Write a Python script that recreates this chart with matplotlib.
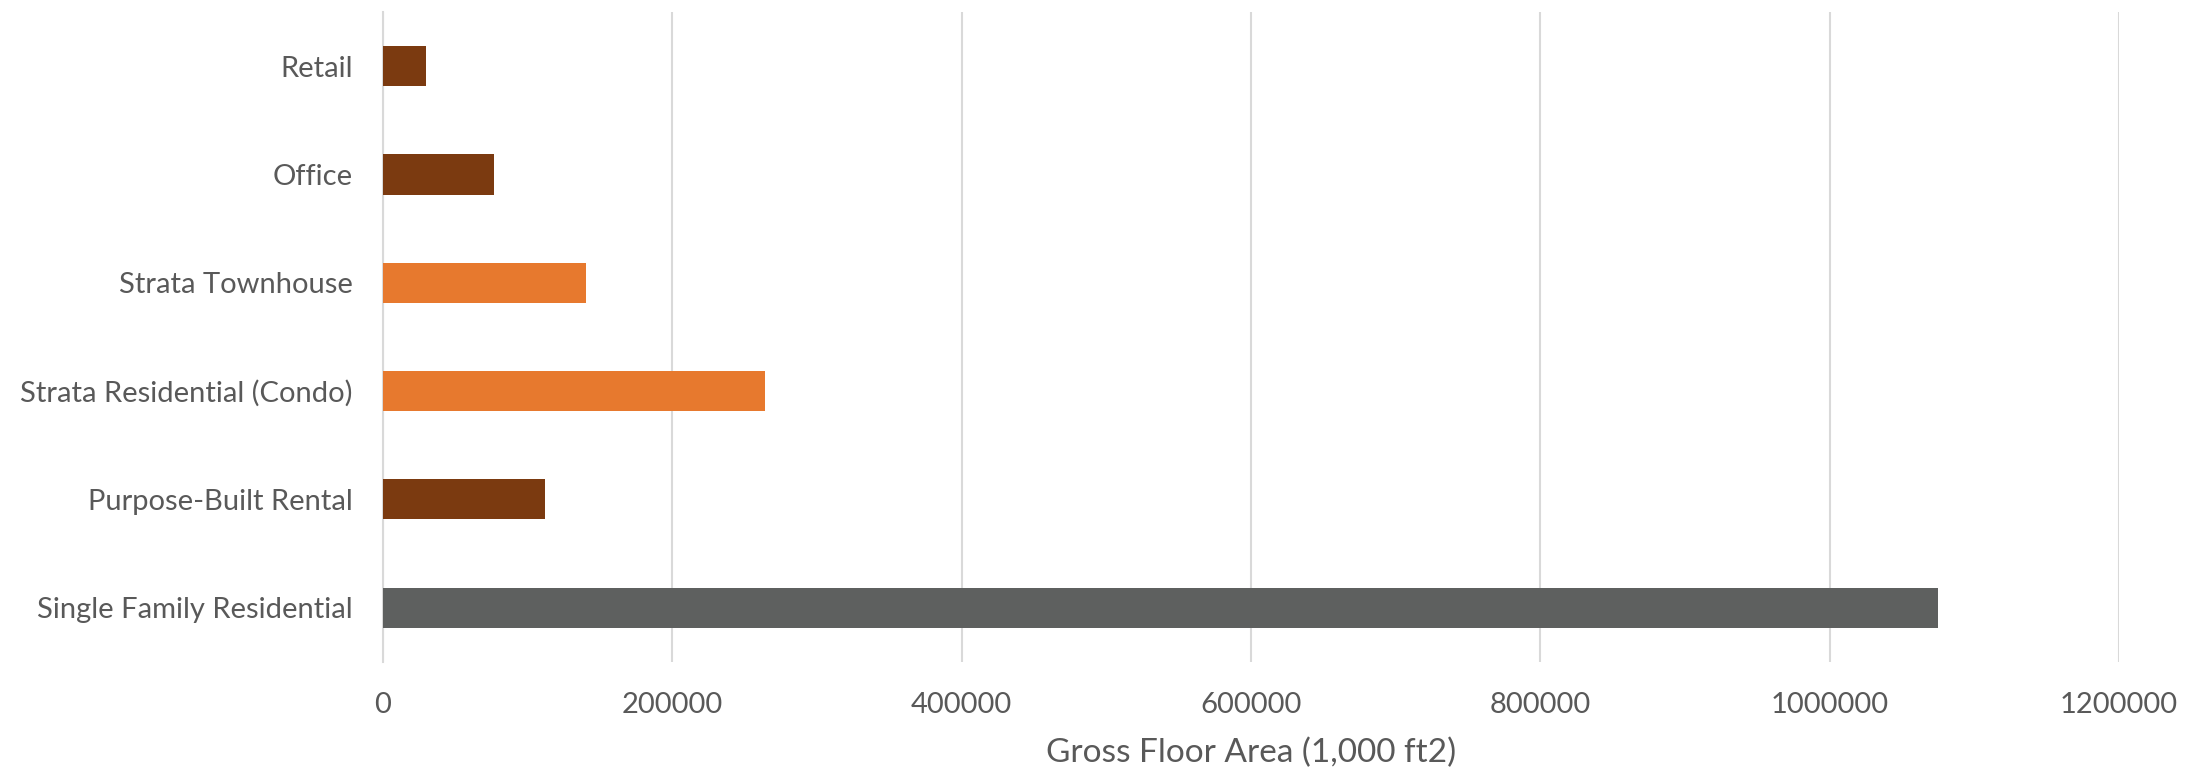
import matplotlib; matplotlib.use('Agg')
import matplotlib.pyplot as plt
import numpy as np

plt.rcParams['font.family'] = ['Lato', 'DejaVu Sans']

# categories listed bottom -> top, like the Excel chart
categories = ['Single Family Residential', 'Purpose-Built Rental', 'Strata Residential (Condo)',
              'Strata Townhouse', 'Office', 'Retail']
gfa = [1075000, 112000, 264000, 140000, 76500, 30000]
colors = ['#5E605F', '#7B3A10', '#E7792E', '#E7792E', '#7B3A10', '#7B3A10']
xticks = [0, 200000, 400000, 600000, 800000, 1000000, 1200000]

fig = plt.figure(figsize=(22.06, 7.75), dpi=100)
ax = fig.add_axes([0.1736, 0.146, 0.787, 0.8385])
y = np.arange(len(categories))
ax.barh(y, gfa, height=0.37, color=colors, zorder=3)
ax.set_yticks(y); ax.set_yticklabels(categories)
ax.set_ylim(-0.5, len(categories) - 0.5)
ax.set_xlim(0, 1200000)
ax.set_xticks(xticks); ax.set_xticklabels([str(t) for t in xticks])
ax.grid(axis='x', color='#D9D9D9', lw=1.5, zorder=0)
for s in ['top', 'right', 'bottom']: ax.spines[s].set_visible(False)
ax.spines['left'].set_color('#D9D9D9'); ax.spines['left'].set_linewidth(1.5)
ax.tick_params(length=0, labelsize=21, labelcolor='#595959')
ax.tick_params(axis='y', pad=22); ax.tick_params(axis='x', pad=22)
ax.set_xlabel('Gross Floor Area (1,000 ft2)', fontsize=24, color='#595959', labelpad=14)
plt.savefig('out.png')
